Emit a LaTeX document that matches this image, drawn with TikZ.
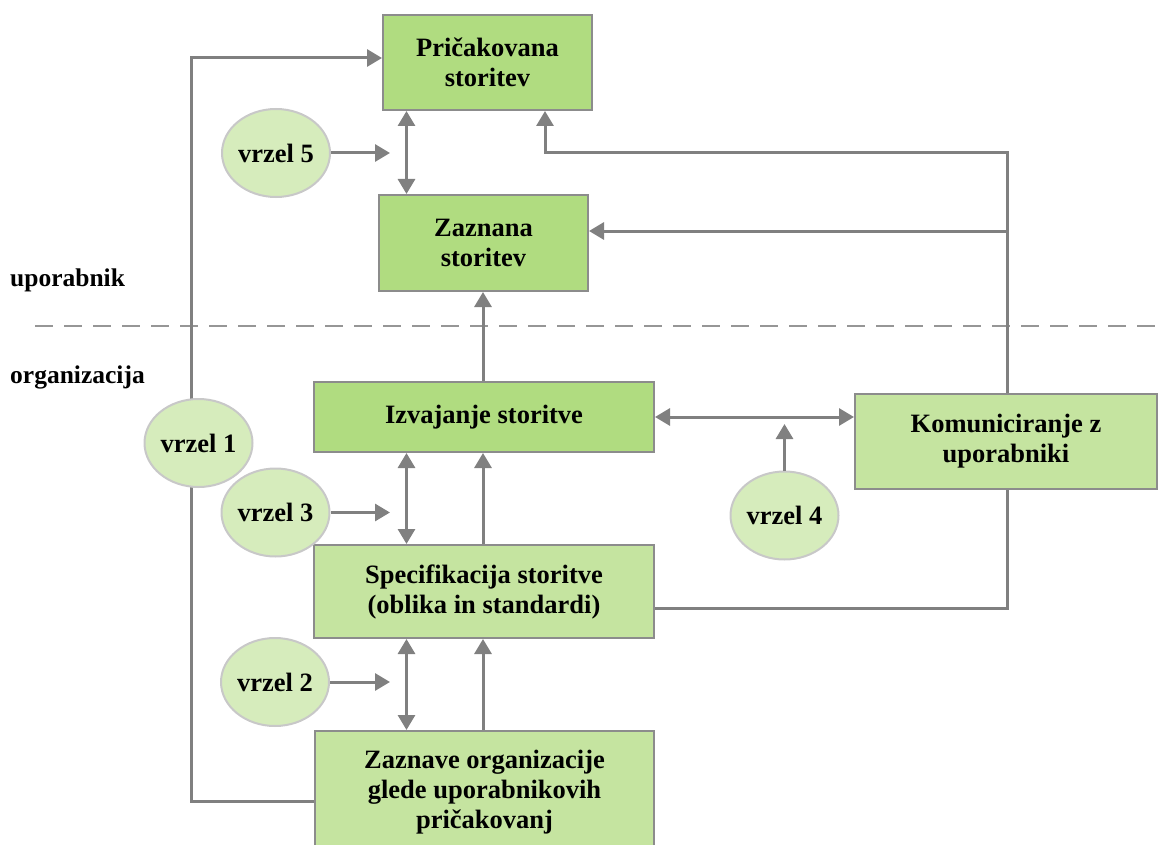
\documentclass[tikz,border=0pt]{standalone}
\usepackage{fontspec}
\setmainfont{Liberation Serif}
\usetikzlibrary{arrows.meta,shapes.geometric}
\definecolor{boxdark}{RGB}{176,220,128}
\definecolor{boxlight}{RGB}{197,228,160}
\definecolor{gapfill}{RGB}{214,236,188}
\definecolor{edgegrey}{RGB}{128,128,128}
\definecolor{boxline}{RGB}{140,140,140}
\definecolor{gapline}{RGB}{200,200,200}
\definecolor{sepgrey}{RGB}{150,150,150}

\begin{document}
\begin{tikzpicture}[x=1pt,y=-1pt,
  every node/.style={font=\fontsize{26.5}{30}\selectfont\bfseries, align=center},
  procbox/.style={rectangle, draw=boxline, line width=2pt, inner sep=0pt},
  darkbox/.style={procbox, fill=boxdark},
  lightbox/.style={procbox, fill=boxlight},
  gap/.style={ellipse, draw=gapline, fill=gapfill, line width=2pt, inner sep=0pt,
    minimum width=108pt, minimum height=88pt},
  tip/.tip={Triangle[length=15pt,width=17pt]},
  conn/.style={draw=edgegrey, line width=3pt, -tip},
  dbl/.style={draw=edgegrey, line width=3pt, tip-tip},
  plain/.style={draw=edgegrey, line width=3pt},
  sideline/.style={draw=sepgrey, line width=2.5pt, dash pattern=on 18pt off 11pt},
  zone/.style={font=\fontsize{25.5}{30}\selectfont\bfseries, inner sep=0pt, anchor=base west}
]
\useasboundingbox (0,0) rectangle (1158,845);

% process boxes
\node[darkbox, minimum width=209pt, minimum height=95pt] (prick) at (487.5,62.5) {Pričakovana\\storitev};
\node[darkbox, minimum width=209pt, minimum height=96pt] (zazn) at (483.5,243) {Zaznana\\storitev};
\node[darkbox, minimum width=340pt, minimum height=70pt] (izv) at (484,417) {Izvajanje storitve};
\node[lightbox, minimum width=340pt, minimum height=93pt] (spec) at (484,591.5) {Specifikacija storitve\\(oblika in standardi)};
\node[lightbox, minimum width=339pt, minimum height=122pt] (zorg) at (484.5,792) {Zaznave organizacije\\glede uporabnikovih\\pričakovanj};
\node[lightbox, minimum width=302pt, minimum height=95pt] (kom) at (1006,441.5) {Komuniciranje z\\uporabniki};

% zone labels and separator
\node[zone] (lupo) at (10,286) {uporabnik};
\node[zone] (lorg) at (10,383) {organizacija};
\coordinate (sepA) at (35,326);
\coordinate (sepB) at (1160,326);
\draw[sideline] (sepA) -- (sepB);

% helper coordinates
\coordinate (colA) at (406.5,0);
\coordinate (colB) at (483,0);
\coordinate (loopLb) at (191,801);
\coordinate (loopLt) at (191,58);
\coordinate (rk1) at (1007,153);
\coordinate (rk2) at (545,153);
\coordinate (rk3) at (1007,231);
\coordinate (rk4) at (1007,608);
\coordinate (g5) at (390,153);
\coordinate (g3) at (390,512.5);
\coordinate (g2) at (390,682);
\coordinate (g4) at (784.5,424);

% connectors
\draw[conn] (zorg.west |- loopLb) -- (loopLb) -- (loopLt) -- (prick.west |- loopLt);
\draw[dbl] (prick.south -| colA) -- (zazn.north -| colA);
\draw[conn] (kom.north -| rk1) -- (rk1) -- (rk2) -- (prick.south -| rk2);
\draw[conn] (rk3) -- (zazn.east |- rk3);
\draw[plain] (kom.south -| rk4) -- (rk4) -- (spec.east |- rk4);
\draw[conn] (izv.north -| colB) -- (zazn.south -| colB);
\draw[dbl] (izv.east) -- (kom.west |- izv.east);
\draw[dbl] (izv.south -| colA) -- (spec.north -| colA);
\draw[conn] (spec.north -| colB) -- (izv.south -| colB);
\draw[dbl] (spec.south -| colA) -- (zorg.north -| colA);
\draw[conn] (zorg.north -| colB) -- (spec.south -| colB);

% gaps
\node[gap] (e5) at (276,153) {vrzel 5};
\node[gap] (e1) at (198.5,443) {vrzel 1};
\node[gap] (e3) at (275.5,512.5) {vrzel 3};
\node[gap] (e2) at (275,682) {vrzel 2};
\node[gap] (e4) at (784.5,515.5) {vrzel 4};

\draw[conn] (e5.east) -- (g5);
\draw[conn] (e3.east) -- (g3);
\draw[conn] (e2.east) -- (g2);
\draw[conn] (e4.north) -- (g4);
\end{tikzpicture}
\end{document}
